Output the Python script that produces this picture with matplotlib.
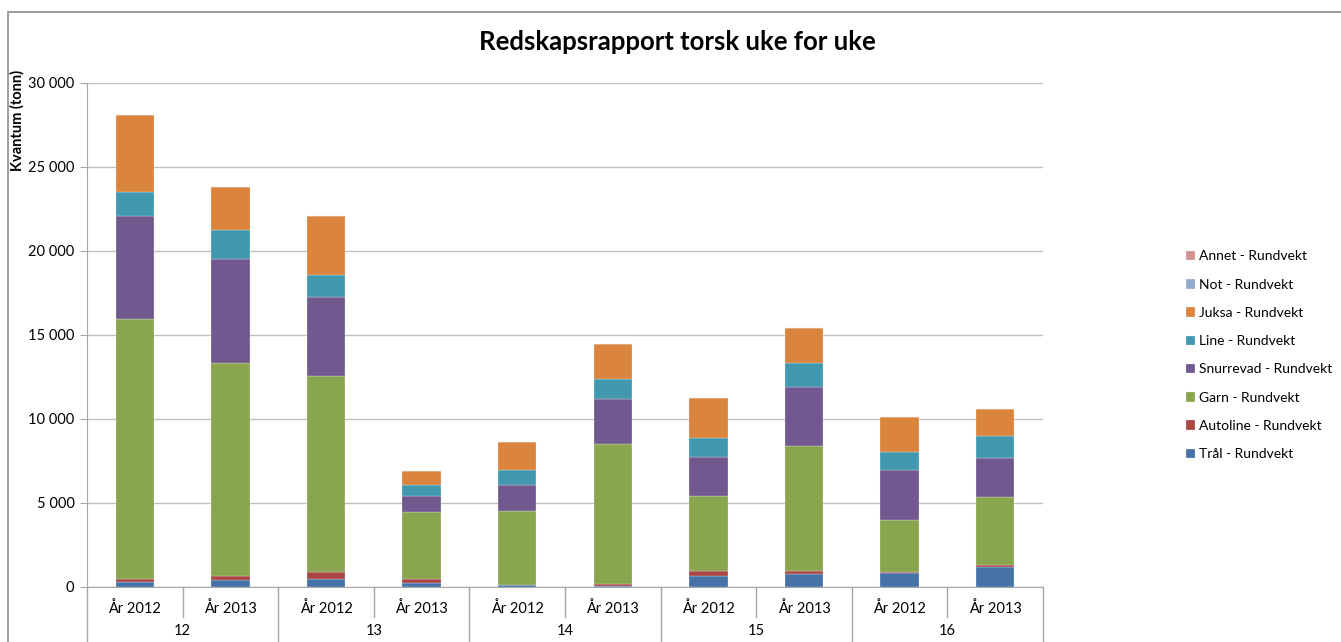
import numpy as np
import matplotlib
matplotlib.use('Agg')
import matplotlib.pyplot as plt
from matplotlib.patches import Rectangle
from matplotlib.ticker import FuncFormatter

plt.rcParams['font.family'] = ['Lato', 'DejaVu Sans']

# Data (tonn)
weeks = ['12', '13', '14', '15', '16']
years = ['År 2012', 'År 2013']
tral = [315, 435, 476, 218, 100, 60, 672, 774, 813, 1170]
autoline = [143, 237, 417, 238, 0, 100, 280, 159, 99, 140]
garn = [15492, 12658, 11647, 3989, 4440, 8330, 4463, 7477, 3058, 4065]
snurrevad = [6140, 6190, 4715, 990, 1510, 2720, 2325, 3490, 2975, 2325]
line = [1450, 1740, 1325, 615, 895, 1150, 1150, 1430, 1090, 1290]
juksa = [4540, 2560, 3495, 835, 1665, 2120, 2360, 2085, 2085, 1620]
not_ = [0, 0, 0, 0, 0, 0, 0, 0, 0, 0]
annet = [0, 0, 0, 0, 0, 0, 0, 0, 0, 0]

series = [
    ('Trål - Rundvekt', tral, '#4572A7'),
    ('Autoline - Rundvekt', autoline, '#AA4643'),
    ('Garn - Rundvekt', garn, '#89A54E'),
    ('Snurrevad - Rundvekt', snurrevad, '#71588F'),
    ('Line - Rundvekt', line, '#4198AF'),
    ('Juksa - Rundvekt', juksa, '#DB843D'),
    ('Not - Rundvekt', not_, '#93A9CF'),
    ('Annet - Rundvekt', annet, '#D19392'),
]

fig = plt.figure(figsize=(13.41, 6.42), dpi=100)
W, H = 1341, 642
ax = fig.add_axes([87 / W, 1 - 587 / H, (1043 - 87) / W, (587 - 83) / H])

# chart frame
fig.patches.append(Rectangle((8 / W, -0.01), 1.0, 1 - 12 / H + 0.01, transform=fig.transFigure,
                             fill=False, edgecolor='#8c8c8c', linewidth=1.2))

x = np.arange(len(tral))
bottom = np.zeros(len(x))
handles = []
for name, vals, col in series:
    b = ax.bar(x, vals, width=0.40, bottom=bottom, color=col, label=name,
               edgecolor='#f2f2f2', linewidth=0.2, zorder=3)
    bottom += np.array(vals)
    handles.append(b)

ax.set_xlim(-0.5, len(x) - 0.5)
ax.set_ylim(0, 30000)
ax.set_yticks(np.arange(0, 30001, 5000))
ax.yaxis.set_major_formatter(FuncFormatter(lambda v, p: f'{int(v):,}'.replace(',', ' ')))
ax.grid(axis='y', color='#c0c0c0', linewidth=1.0, zorder=0)
for s in ['top', 'right']:
    ax.spines[s].set_visible(False)
ax.spines['left'].set_color('#a6a6a6')
ax.spines['bottom'].set_color('#a6a6a6')
ax.tick_params(axis='y', colors='#a6a6a6', labelcolor='black', labelsize=10.5, length=5, pad=4)
ax.tick_params(axis='x', length=0, labelsize=10.5, pad=10)

ax.set_xticks(x)
ax.set_xticklabels(years * len(weeks))

# multi-level category axis
trans = ax.get_xaxis_transform()
ax_h = (587 - 83)
short = -30 / ax_h
long_ = -60 / ax_h
for i in range(len(x) + 1):
    xp = i - 0.5
    if i % 2 == 0:
        ax.plot([xp, xp], [0, long_], transform=trans, color='#a6a6a6', lw=1.0, clip_on=False)
    else:
        ax.plot([xp, xp], [0, short], transform=trans, color='#a6a6a6', lw=1.0, clip_on=False)
for j, w in enumerate(weeks):
    ax.text(2 * j + 0.5, -44 / ax_h, w, transform=trans, ha='center', va='center', fontsize=10.5)

fig.text(17 / W, 1 - 120 / H, 'Kvantum (tonn)', rotation=90, ha='center', va='center',
         fontsize=10.5, fontweight='bold')
fig.text(677 / W, 1 - 42 / H, 'Redskapsrapport torsk uke for uke', ha='center', va='center',
         fontsize=18.5, fontweight='bold')

leg = fig.legend(handles[::-1], [s[0] for s in series][::-1], loc='upper left',
                 bbox_to_anchor=(1173 / W, 1 - 238 / H), frameon=False, fontsize=10,
                 handlelength=0.7, handleheight=0.7, handletextpad=0.3, labelspacing=1.17)

fig.savefig('out.png', dpi=100)
